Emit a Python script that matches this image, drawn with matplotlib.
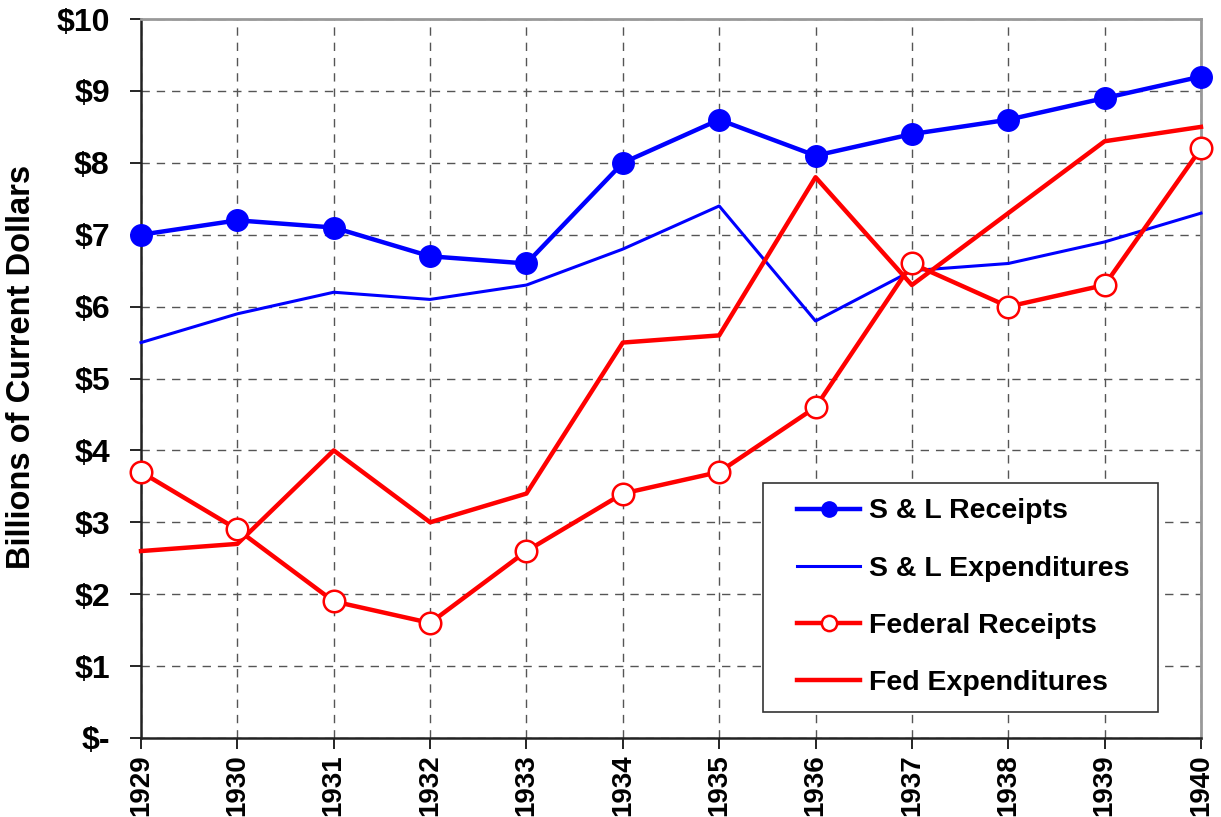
import matplotlib.pyplot as plt
from matplotlib.lines import Line2D
from matplotlib.legend_handler import HandlerLine2D

# dữ liệu (tỷ đô la)
years = [1929, 1930, 1931, 1932, 1933, 1934, 1935, 1936, 1937, 1938, 1939, 1940]
sl_receipts = [7.0, 7.2, 7.1, 6.7, 6.6, 8.0, 8.6, 8.1, 8.4, 8.6, 8.9, 9.2]
sl_expend = [5.5, 5.9, 6.2, 6.1, 6.3, 6.8, 7.4, 5.8, 6.5, 6.6, 6.9, 7.3]
fed_receipts = [3.7, 2.9, 1.9, 1.6, 2.6, 3.4, 3.7, 4.6, 6.6, 6.0, 6.3, 8.2]
fed_expend = [2.6, 2.7, 4.0, 3.0, 3.4, 5.5, 5.6, 7.8, 6.3, 7.3, 8.3, 8.5]
ytick_vals = [0, 1, 2, 3, 4, 5, 6, 7, 8, 9, 10]
ytick_labels = ['$-', '$1', '$2', '$3', '$4', '$5', '$6', '$7', '$8', '$9', '$10']

plt.rcParams['font.family'] = ['Liberation Sans', 'DejaVu Sans']
plt.rcParams['font.weight'] = 'bold'

fig = plt.figure(figsize=(12.21, 8.17), dpi=100)
ax = fig.add_axes([0.1155, 0.0967, 0.8681, 0.88])

ax.plot(years, sl_receipts, color='#0000ff', lw=3.2, marker='o', ms=15.5,
        mfc='#0000ff', mec='#0000ff', label='S & L Receipts', clip_on=False, zorder=5)
ax.plot(years, sl_expend, color='#0000ff', lw=2.2, label='S & L Expenditures',
        clip_on=False, zorder=4)
ax.plot(years, fed_receipts, color='#ff0000', lw=3.2, marker='o', ms=15.5,
        mfc='white', mec='#ff0000', mew=1.8, label='Federal Receipts', clip_on=False, zorder=5)
ax.plot(years, fed_expend, color='#ff0000', lw=3.2, label='Fed Expenditures',
        clip_on=False, zorder=4)

ax.set_xlim(1929, 1940)
ax.set_ylim(0, 10)
ax.set_xticks(years)
ax.set_xticklabels([str(y) for y in years], rotation=90, fontsize=20, fontweight='bold')
ax.set_yticks(ytick_vals)
ax.set_yticklabels(ytick_labels, fontsize=23, fontweight='bold')
ax.tick_params(direction='out', length=8, width=1.2, pad=4)
ax.tick_params(axis='y', pad=14.5)

ax.grid(True, ls=(0, (6, 5)), color='#555555', lw=1)
for s in ['left', 'bottom']:
    ax.spines[s].set_color('#222222')
    ax.spines[s].set_linewidth(1.8)
for s in ['top', 'right']:
    ax.spines[s].set_color('#999999')
    ax.spines[s].set_linewidth(2)

ax.set_ylabel('Billions of Current Dollars', fontsize=23.5, fontweight='bold')
ax.yaxis.set_label_coords(-0.098, 0.516)

leg = ax.legend(loc='lower left', bbox_to_anchor=(0.587, 0.036, 0.372, 0.323),
                mode='expand', borderaxespad=0, handlelength=2.85,
                handletextpad=0.3, labelspacing=1.1, fancybox=False, framealpha=1,
                borderpad=0.55, prop={'weight': 'bold', 'size': 20.5},
                handler_map={Line2D: HandlerLine2D(xpad=0.65)})
leg.get_frame().set_edgecolor('#333333')
leg.get_frame().set_linewidth(1.2)
for h in leg.legend_handles:
    h.set_markersize(11)

fig.savefig('out.png', dpi=100)
